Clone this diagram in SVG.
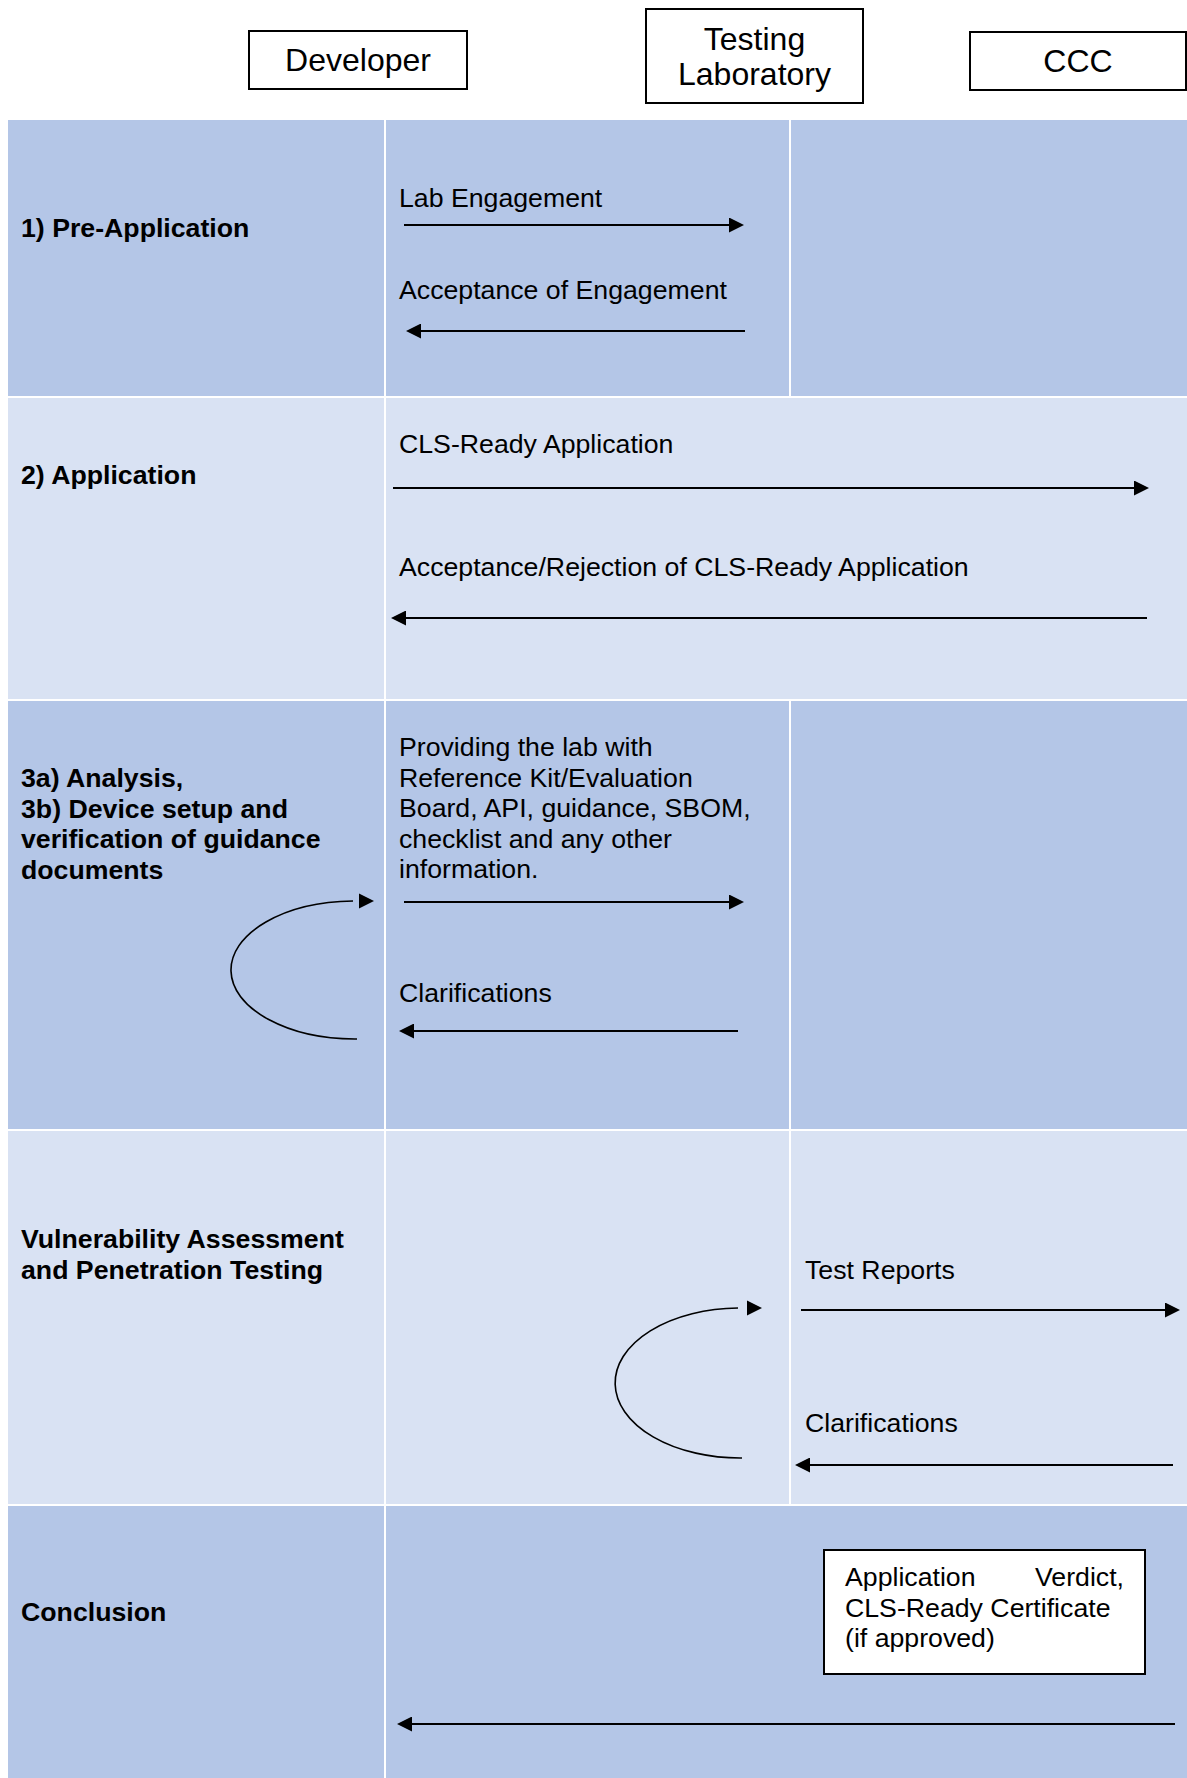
<svg xmlns="http://www.w3.org/2000/svg" width="1187" height="1778" viewBox="0 0 1187 1778">
<defs>
<style>
text{font-family:"Liberation Sans",Arial,sans-serif;fill:#000}
.hdr{font-size:32px;text-anchor:middle}
.lbl{font-size:26.7px}
.bold{font-size:26.7px;font-weight:bold}
.dark{fill:#B4C6E7}
.light{fill:#D9E2F3}
.box{fill:#fff;stroke:#000;stroke-width:2}
.msg{stroke:#000;stroke-width:2;fill:none;marker-end:url(#ah)}
.loop{stroke:#000;stroke-width:1.6;fill:none}
</style>
<marker id="ah" viewBox="0 0 15 15" refX="13" refY="7.5" markerWidth="15" markerHeight="15" markerUnits="userSpaceOnUse" orient="auto">
<path d="M0,0 L15,7.5 L0,15 Z" fill="#000"/>
</marker>
</defs>
<rect x="0" y="0" width="1187" height="1778" fill="#fff"/>

<g id="lane-developer">
<rect class="box" x="249" y="31" width="218" height="58"/>
<text class="hdr" x="358" y="71">Developer</text>
</g>
<g id="lane-testing-laboratory">
<rect class="box" x="646" y="9" width="217" height="94"/>
<text class="hdr" x="754.5" y="50">Testing</text>
<text class="hdr" x="754.5" y="85">Laboratory</text>
</g>
<g id="lane-ccc">
<rect class="box" x="970" y="32" width="216" height="58"/>
<text class="hdr" x="1078" y="72">CCC</text>
</g>

<g id="phase-pre-application">
<rect class="dark" x="8" y="120" width="376" height="276"/>
<rect class="dark" x="386" y="120" width="403" height="276"/>
<rect class="dark" x="791" y="120" width="396" height="276"/>
<text class="bold" x="21" y="237">1) Pre-Application</text>
</g>
<g id="phase-application">
<rect class="light" x="8" y="398" width="376" height="301"/>
<rect class="light" x="386" y="398" width="801" height="301"/>
<text class="bold" x="21" y="484">2) Application</text>
</g>
<g id="phase-analysis">
<rect class="dark" x="8" y="701" width="376" height="428"/>
<rect class="dark" x="386" y="701" width="403" height="428"/>
<rect class="dark" x="791" y="701" width="396" height="428"/>
<text class="bold" x="21" y="787">3a) Analysis,</text>
<text class="bold" x="21" y="817.5">3b) Device setup and</text>
<text class="bold" x="21" y="848">verification of guidance</text>
<text class="bold" x="21" y="878.5">documents</text>
</g>
<g id="phase-vapt">
<rect class="light" x="8" y="1131" width="376" height="373"/>
<rect class="light" x="386" y="1131" width="403" height="373"/>
<rect class="light" x="791" y="1131" width="396" height="373"/>
<text class="bold" x="21" y="1248">Vulnerability Assessment</text>
<text class="bold" x="21" y="1278.5">and Penetration Testing</text>
</g>
<g id="phase-conclusion">
<rect class="dark" x="8" y="1506" width="376" height="272"/>
<rect class="dark" x="386" y="1506" width="801" height="272"/>
<text class="bold" x="21" y="1621">Conclusion</text>
</g>

<g id="verdict-box">
<rect class="box" x="824" y="1550" width="321" height="124"/>
<text class="lbl" x="845" y="1586">Application</text>
<text class="lbl" x="1124" y="1586" text-anchor="end">Verdict,</text>
<text class="lbl" x="845" y="1617">CLS-Ready Certificate</text>
<text class="lbl" x="845" y="1647">(if approved)</text>
</g>

<g id="connectors">
<line class="msg" x1="404" y1="225" x2="742" y2="225"/>
<line class="msg" x1="745" y1="331" x2="408" y2="331"/>
<line class="msg" x1="393" y1="488" x2="1147" y2="488"/>
<line class="msg" x1="1147" y1="618" x2="393" y2="618"/>
<line class="msg" x1="404" y1="902" x2="742" y2="902"/>
<line class="msg" x1="738" y1="1031" x2="401" y2="1031"/>
<line class="msg" x1="801" y1="1310" x2="1178" y2="1310"/>
<line class="msg" x1="1173" y1="1465" x2="797" y2="1465"/>
<line class="msg" x1="1175" y1="1724" x2="399" y2="1724"/>
<path class="loop" d="M357,1039 A124,69 0 0 1 353,901"/>
<path d="M359,893.5 L374,901 L359,908.5 Z" fill="#000"/>
<path class="loop" d="M742,1458 A125,75 0 0 1 738,1308"/>
<path d="M747,1300.5 L762,1308 L747,1315.5 Z" fill="#000"/>
</g>

<g id="connector-labels">
<text class="lbl" x="399" y="206.5">Lab Engagement</text>
<text class="lbl" x="399" y="298.5">Acceptance of Engagement</text>
<text class="lbl" x="399" y="452.5">CLS-Ready Application</text>
<text class="lbl" x="399" y="576">Acceptance/Rejection of CLS-Ready Application</text>
<text class="lbl" x="399" y="756">Providing the lab with</text>
<text class="lbl" x="399" y="786.5">Reference Kit/Evaluation</text>
<text class="lbl" x="399" y="817">Board, API, guidance, SBOM,</text>
<text class="lbl" x="399" y="847.5">checklist and any other</text>
<text class="lbl" x="399" y="878">information.</text>
<text class="lbl" x="399" y="1001.5">Clarifications</text>
<text class="lbl" x="805" y="1279">Test Reports</text>
<text class="lbl" x="805" y="1432">Clarifications</text>
</g>
</svg>
